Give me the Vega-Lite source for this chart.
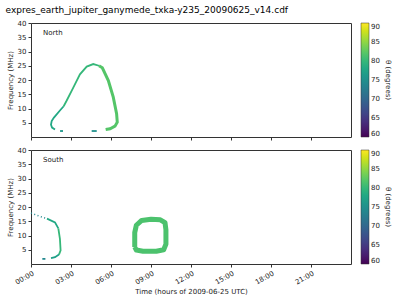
{
  "$schema": "https://vega.github.io/schema/vega-lite/v6.json",
  "title": {"text": "expres_earth_jupiter_ganymede_txka-y235_20090625_v14.cdf", "fontSize": 9, "fontWeight": "normal", "font": "DejaVu Sans", "color": "#000", "offset": 4},
  "padding": {"left": 5, "top": 5, "right": 5, "bottom": 2},
  "config": {
    "font": "DejaVu Sans",
    "view": {"stroke": "#333", "strokeWidth": 1},
    "axis": {"labelFontSize": 7, "titleFontSize": 7, "titleFontWeight": "normal", "grid": false, "domain": false, "tickColor": "#333", "labelColor": "#222", "titleColor": "#222", "tickSize": 3, "labelOverlap": false, "labelPadding": 2},
    "legend": {"labelFontSize": 7, "titleFontSize": 7, "titleFontWeight": "normal", "labelColor": "#222", "titleColor": "#222"},
    "concat": {"spacing": 4}
  },
  "datasets": {
    "pts": [
      {"panel": "North", "seg": "Na", "t": 1.8, "f": 2.6, "theta": 78},
      {"panel": "North", "seg": "Na", "t": 1.58, "f": 3.3, "theta": 78},
      {"panel": "North", "seg": "Na", "t": 1.5, "f": 4.3, "theta": 78},
      {"panel": "North", "seg": "Na", "t": 1.55, "f": 5.6, "theta": 78},
      {"panel": "North", "seg": "Na", "t": 1.72, "f": 6.8, "theta": 78},
      {"panel": "North", "seg": "Na", "t": 2.17, "f": 9.3, "theta": 78},
      {"panel": "North", "seg": "Na", "t": 2.45, "f": 10.8, "theta": 78},
      {"panel": "North", "seg": "Nb", "t": 2.45, "f": 10.8, "theta": 80},
      {"panel": "North", "seg": "Nb", "t": 2.68, "f": 12.8, "theta": 80},
      {"panel": "North", "seg": "Nb", "t": 3.17, "f": 17.3, "theta": 80},
      {"panel": "North", "seg": "Nb", "t": 3.67, "f": 22.0, "theta": 80},
      {"panel": "North", "seg": "Nb", "t": 4.18, "f": 24.7, "theta": 80},
      {"panel": "North", "seg": "Nb", "t": 4.67, "f": 25.6, "theta": 80},
      {"panel": "North", "seg": "Nb", "t": 5.1, "f": 25.0, "theta": 80},
      {"panel": "North", "seg": "Nc", "t": 5.1, "f": 25.0, "theta": 82},
      {"panel": "North", "seg": "Nc", "t": 5.35, "f": 24.3, "theta": 82},
      {"panel": "North", "seg": "Nc", "t": 5.8, "f": 19.8, "theta": 82},
      {"panel": "North", "seg": "Nc", "t": 6.17, "f": 14.0, "theta": 82},
      {"panel": "North", "seg": "Nc", "t": 6.42, "f": 8.2, "theta": 82},
      {"panel": "North", "seg": "Nc", "t": 6.47, "f": 5.2, "theta": 82},
      {"panel": "North", "seg": "Nc", "t": 6.3, "f": 3.8, "theta": 82},
      {"panel": "North", "seg": "Nc", "t": 5.93, "f": 2.9, "theta": 82},
      {"panel": "North", "seg": "Nc", "t": 5.6, "f": 2.6, "theta": 82},
      {"panel": "North", "seg": "Nd", "t": 2.18, "f": 2.1, "theta": 76},
      {"panel": "North", "seg": "Nd", "t": 2.4, "f": 2.1, "theta": 76},
      {"panel": "North", "seg": "Ne", "t": 4.55, "f": 2.1, "theta": 75},
      {"panel": "North", "seg": "Ne", "t": 4.93, "f": 2.1, "theta": 75},
      {"panel": "South", "seg": "Sa", "t": 0.0, "f": 17.9, "theta": 74},
      {"panel": "South", "seg": "Sa", "t": 0.6, "f": 16.8, "theta": 74},
      {"panel": "South", "seg": "Sa", "t": 1.2, "f": 15.9, "theta": 74},
      {"panel": "South", "seg": "Sb", "t": 1.2, "f": 15.9, "theta": 78},
      {"panel": "South", "seg": "Sb", "t": 1.8, "f": 14.6, "theta": 78},
      {"panel": "South", "seg": "Sb", "t": 2.05, "f": 12.5, "theta": 78},
      {"panel": "South", "seg": "Sc", "t": 2.05, "f": 12.5, "theta": 80},
      {"panel": "South", "seg": "Sc", "t": 2.17, "f": 8.8, "theta": 80},
      {"panel": "South", "seg": "Sc", "t": 2.22, "f": 4.8, "theta": 80},
      {"panel": "South", "seg": "Sc", "t": 2.1, "f": 3.3, "theta": 80},
      {"panel": "South", "seg": "Sd", "t": 2.1, "f": 3.3, "theta": 77},
      {"panel": "South", "seg": "Sd", "t": 1.8, "f": 2.4, "theta": 77},
      {"panel": "South", "seg": "Sd", "t": 1.5, "f": 2.1, "theta": 77},
      {"panel": "South", "seg": "Se", "t": 0.85, "f": 1.8, "theta": 74},
      {"panel": "South", "seg": "Se", "t": 1.08, "f": 1.8, "theta": 74},
      {"panel": "South", "seg": "O", "t": 7.78, "f": 6.0, "theta": 81.5},
      {"panel": "South", "seg": "O", "t": 7.78, "f": 11.0, "theta": 81.5},
      {"panel": "South", "seg": "O", "t": 7.9, "f": 13.6, "theta": 81.5},
      {"panel": "South", "seg": "O", "t": 8.3, "f": 15.3, "theta": 81.5},
      {"panel": "South", "seg": "O", "t": 9.0, "f": 15.7, "theta": 81.5},
      {"panel": "South", "seg": "O", "t": 9.7, "f": 15.5, "theta": 81.5},
      {"panel": "South", "seg": "O", "t": 10.05, "f": 14.5, "theta": 81.5},
      {"panel": "South", "seg": "O", "t": 10.12, "f": 12.0, "theta": 81.5},
      {"panel": "South", "seg": "O", "t": 10.12, "f": 7.0, "theta": 81.5},
      {"panel": "South", "seg": "O", "t": 9.95, "f": 5.0, "theta": 81.5},
      {"panel": "South", "seg": "O", "t": 9.4, "f": 4.5, "theta": 81.5},
      {"panel": "South", "seg": "O", "t": 8.4, "f": 4.5, "theta": 81.5},
      {"panel": "South", "seg": "O", "t": 7.9, "f": 4.9, "theta": 81.5},
      {"panel": "South", "seg": "O", "t": 7.78, "f": 6.0, "theta": 81.5}
    ],
    "labels": [
      {"panel": "North", "t": 0.9, "f": 36.5},
      {"panel": "South", "t": 0.9, "f": 36.5}
    ]
  },
  "resolve": {"scale": {"color": "independent"}, "legend": {"color": "independent"}},
  "vconcat": [
    {
      "width": 320,
      "height": 114,
      "encoding": {
        "x": {"field": "t", "type": "quantitative", "scale": {"domain": [0, 24], "nice": false}, "axis": {"values": [0, 3, 6, 9, 12, 15, 18, 21], "labels": false, "title": null}},
        "y": {"field": "f", "type": "quantitative", "scale": {"domain": [0, 40], "nice": false, "zero": false}, "axis": {"values": [5, 10, 15, 20, 25, 30, 35, 40], "title": "Frequency (MHz)"}}
      },
      "layer": [
        {
          "data": {"name": "pts"},
          "transform": [{"filter": "datum.panel == 'North' && datum.seg != 'Nc'"}],
          "mark": {"type": "line", "strokeWidth": 1.8, "strokeCap": "butt"},
          "encoding": {
            "detail": {"field": "seg"},
            "order": {"value": null},
            "color": {"field": "theta", "type": "quantitative", "scale": {"scheme": "viridis", "domain": [60, 90]}, "legend": {"title": "θ (degrees)", "values": [60, 65, 70, 75, 80, 85, 90], "gradientLength": 114, "gradientThickness": 8, "titleOrient": "right", "titleAngle": 270, "offset": 10, "gradientStrokeColor": "#333", "gradientStrokeWidth": 0.5}}
          }
        },
        {
          "data": {"name": "pts"},
          "transform": [{"filter": "datum.seg == 'Nc'"}],
          "mark": {"type": "line", "strokeWidth": 3, "strokeCap": "butt"},
          "encoding": {
            "detail": {"field": "seg"},
            "order": {"value": null},
            "color": {"field": "theta", "type": "quantitative"}
          }
        },
        {
          "data": {"name": "labels"},
          "transform": [{"filter": "datum.panel == 'North'"}],
          "mark": {"type": "text", "align": "left", "baseline": "middle", "fontSize": 7, "color": "#222"},
          "encoding": {
            "text": {"field": "panel"}
          }
        }
      ]
    },
    {
      "width": 320,
      "height": 114,
      "encoding": {
        "x": {"field": "t", "type": "quantitative", "scale": {"domain": [0, 24], "nice": false}, "axis": {"values": [0, 3, 6, 9, 12, 15, 18, 21], "labelExpr": "(datum.value < 10 ? '0' : '') + datum.value + ':00'", "labelAngle": -30, "labelAlign": "right", "labelBaseline": "top", "title": "Time (hours of 2009-06-25 UTC)", "titlePadding": 2}},
        "y": {"field": "f", "type": "quantitative", "scale": {"domain": [0, 40], "nice": false, "zero": false}, "axis": {"values": [5, 10, 15, 20, 25, 30, 35, 40], "title": "Frequency (MHz)"}}
      },
      "layer": [
        {
          "data": {"name": "pts"},
          "transform": [{"filter": "datum.panel == 'South' && datum.seg != 'O' && datum.seg != 'Sa'"}],
          "mark": {"type": "line", "strokeWidth": 1.8, "strokeCap": "butt"},
          "encoding": {
            "detail": {"field": "seg"},
            "order": {"value": null},
            "color": {"field": "theta", "type": "quantitative", "scale": {"scheme": "viridis", "domain": [60, 90]}, "legend": {"title": "θ (degrees)", "values": [60, 65, 70, 75, 80, 85, 90], "gradientLength": 114, "gradientThickness": 8, "titleOrient": "right", "titleAngle": 270, "offset": 10, "gradientStrokeColor": "#333", "gradientStrokeWidth": 0.5}}
          }
        },
        {
          "data": {"name": "pts"},
          "transform": [{"filter": "datum.seg == 'Sa'"}],
          "mark": {"type": "line", "strokeWidth": 1.5, "strokeDash": [1, 2.5], "strokeCap": "butt"},
          "encoding": {
            "detail": {"field": "seg"},
            "order": {"value": null},
            "color": {"field": "theta", "type": "quantitative"}
          }
        },
        {
          "data": {"name": "pts"},
          "transform": [{"filter": "datum.seg == 'O'"}],
          "mark": {"type": "line", "strokeWidth": 5, "strokeJoin": "round"},
          "encoding": {
            "detail": {"field": "seg"},
            "order": {"value": null},
            "color": {"field": "theta", "type": "quantitative"}
          }
        },
        {
          "data": {"name": "labels"},
          "transform": [{"filter": "datum.panel == 'South'"}],
          "mark": {"type": "text", "align": "left", "baseline": "middle", "fontSize": 7, "color": "#222"},
          "encoding": {
            "text": {"field": "panel"}
          }
        }
      ]
    }
  ]
}
